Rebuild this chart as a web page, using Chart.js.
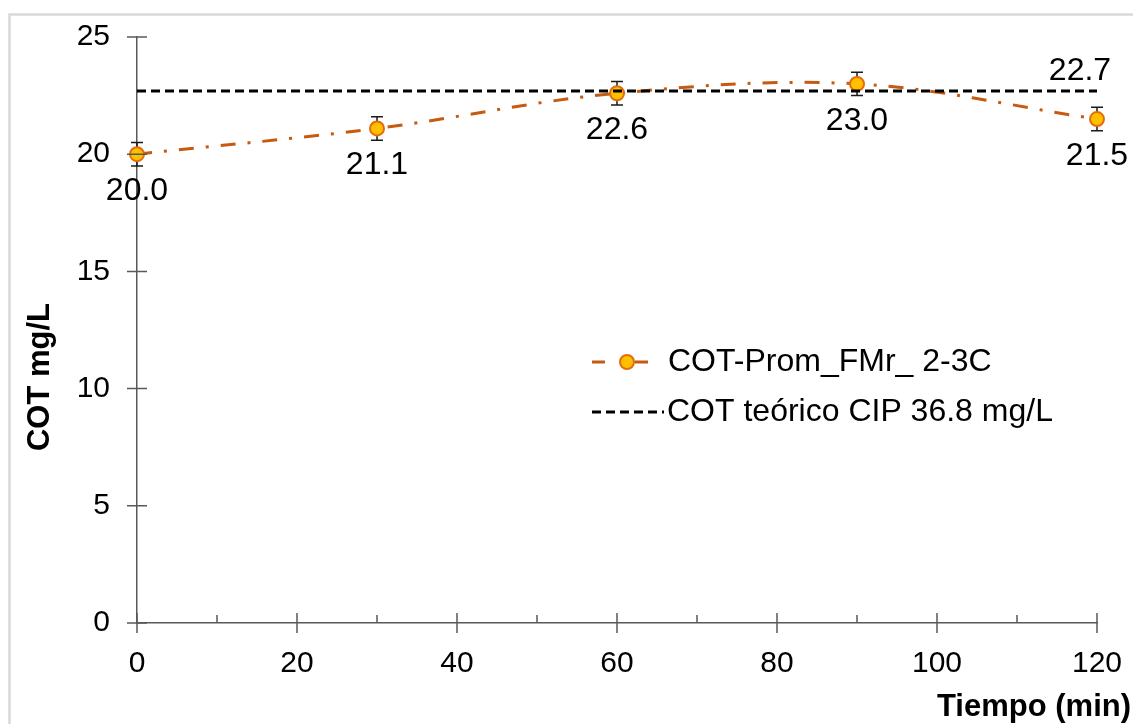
<!DOCTYPE html>
<html>
<head>
<meta charset="utf-8">
<title>COT vs tiempo</title>
<script src="https://cdn.jsdelivr.net/npm/chart.js@4.4.1/dist/chart.umd.min.js"></script>
<style>
  html, body { margin: 0; padding: 0; background: #fff; }
  #chart { display: block; }
</style>
</head>
<body>
<canvas id="chart" width="1133" height="724"></canvas>
<script>
// tiempo de muestreo (min) y COT promedio (mg/L)
const tiempo = [0, 30, 60, 90, 120];
const cotProm = [20.0, 21.1, 22.6, 23.0, 21.5];
const cotError = [0.5, 0.5, 0.5, 0.5, 0.5];
const cotTeorico = 22.7;
const xRange = [0, 120];
const yRange = [0, 25];

const FONT = "'Liberation Sans', Arial, sans-serif";
const ORANGE = "#C65A11";
const AXIS = "#595959";

// ticks that cross the axes + minor ticks on x
const axisTicks = {
  id: "axisTicks",
  afterDraw(chart) {
    const { ctx, scales: { x, y } } = chart;
    const x0 = x.getPixelForValue(0);
    const y0 = y.getPixelForValue(0);
    ctx.save();
    ctx.strokeStyle = AXIS;
    ctx.lineWidth = 1.5;
    ctx.beginPath();
    for (let v = xRange[0]; v <= xRange[1]; v += 10) {
      const px = x.getPixelForValue(v);
      if (v % 20 === 0) {
        ctx.moveTo(px, y0 - 10);
        ctx.lineTo(px, y0 + 10);
      } else {
        ctx.moveTo(px, y0 - 8);
        ctx.lineTo(px, y0);
      }
    }
    for (let v = yRange[0]; v <= yRange[1]; v += 5) {
      const py = y.getPixelForValue(v);
      ctx.moveTo(x0 - 10, py);
      ctx.lineTo(x0 + 10, py);
    }
    ctx.stroke();
    ctx.restore();
  }
};

// frame, axis titles, error bars, value labels and legend
const extras = {
  id: "extras",
  beforeDraw(chart) {
    const ctx = chart.ctx;
    ctx.save();
    ctx.strokeStyle = "#d9d9d9";
    ctx.lineWidth = 2.5;
    ctx.beginPath();
    ctx.moveTo(9.5, chart.height);
    ctx.lineTo(9.5, 14.5);
    ctx.lineTo(chart.width, 14.5);
    ctx.stroke();
    ctx.restore();
  },
  beforeDatasetsDraw(chart) {
    const { ctx, scales: { x, y } } = chart;
    ctx.save();
    ctx.strokeStyle = "#1a1a1a";
    ctx.lineWidth = 1.5;
    ctx.beginPath();
    tiempo.forEach((t, i) => {
      const px = x.getPixelForValue(t);
      const top = y.getPixelForValue(cotProm[i] + cotError[i]);
      const bot = y.getPixelForValue(cotProm[i] - cotError[i]);
      ctx.moveTo(px, top); ctx.lineTo(px, bot);
      ctx.moveTo(px - 6, top); ctx.lineTo(px + 6, top);
      ctx.moveTo(px - 6, bot); ctx.lineTo(px + 6, bot);
    });
    ctx.stroke();
    ctx.restore();
  },
  afterDraw(chart) {
    const { ctx, scales: { x, y } } = chart;
    ctx.save();
    ctx.fillStyle = "#000";
    ctx.font = "32px " + FONT;
    ctx.textAlign = "center";
    ctx.textBaseline = "middle";
    tiempo.forEach((t, i) => {
      ctx.fillText(cotProm[i].toFixed(1), x.getPixelForValue(t), y.getPixelForValue(cotProm[i]) + 37);
    });
    ctx.fillText(cotTeorico.toFixed(1), x.getPixelForValue(xRange[1]) - 17, y.getPixelForValue(cotTeorico) - 20);

    // axis titles
    ctx.font = "bold 31px " + FONT;
    ctx.textAlign = "right";
    ctx.textBaseline = "alphabetic";
    ctx.fillText("Tiempo (min)", 1131, 716);
    ctx.save();
    ctx.translate(49, 377);
    ctx.rotate(-Math.PI / 2);
    ctx.textAlign = "center";
    ctx.fillText("COT mg/L", 0, 0);
    ctx.restore();

    // legend
    const ds = chart.data.datasets;
    const lx = 592, ly1 = 362, ly2 = 412;
    ctx.lineWidth = 3;
    ctx.strokeStyle = ORANGE;
    ctx.beginPath();
    ctx.moveTo(lx, ly1); ctx.lineTo(lx + 13, ly1);
    ctx.moveTo(lx + 43, ly1); ctx.lineTo(lx + 56, ly1);
    ctx.stroke();
    ctx.beginPath();
    ctx.arc(lx + 35, ly1, 7, 0, Math.PI * 2);
    ctx.fillStyle = "#FFC000";
    ctx.fill();
    ctx.lineWidth = 2;
    ctx.strokeStyle = "#E46C0A";
    ctx.stroke();

    ctx.lineWidth = 3;
    ctx.strokeStyle = "#000";
    ctx.setLineDash([9, 5]);
    ctx.beginPath();
    ctx.moveTo(lx, ly2); ctx.lineTo(lx + 72, ly2);
    ctx.stroke();
    ctx.setLineDash([]);

    ctx.fillStyle = "#000";
    ctx.font = "32px " + FONT;
    ctx.textAlign = "left";
    ctx.textBaseline = "middle";
    ctx.fillText(ds[1].label, 668, ly1);
    ctx.fillText(ds[0].label, 667, ly2);
    ctx.restore();
  }
};

const ctx = document.getElementById("chart");
const chart = new Chart(ctx, {
  type: "line",
  data: {
    datasets: [
      {
        label: "COT teórico CIP 36.8 mg/L",
        data: xRange.map((t) => ({ x: t, y: cotTeorico })),
        borderColor: "#000",
        borderWidth: 3,
        borderDash: [9, 5],
        pointRadius: 0,
        order: 0,
      },
      {
        label: "COT-Prom_FMr_ 2-3C",
        data: tiempo.map((t, i) => ({ x: t, y: cotProm[i] })),
        borderColor: ORANGE,
        borderWidth: 3,
        borderDash: [15, 12, 3, 12],
        tension: 0.35,
        pointRadius: 7,
        pointBackgroundColor: "#FFC000",
        pointBorderColor: "#E46C0A",
        pointBorderWidth: 2,
        order: 1,
      },
    ],
  },
  options: {
    responsive: false,
    animation: false,
    devicePixelRatio: 1,
    clip: false,
    layout: { padding: { left: 0, right: 36, top: 37, bottom: 0 } },
    plugins: {
      legend: { display: false },
      tooltip: { enabled: false },
    },
    scales: {
      x: {
        type: "linear",
        min: xRange[0],
        max: xRange[1],
        afterFit: (s) => {
          s.height = 101;
          s.paddingLeft = 0;
          s.paddingRight = 0;
        },
        border: { display: true, color: AXIS, width: 1.5 },
        grid: { display: true, drawOnChartArea: false, drawTicks: false },
        ticks: {
          stepSize: 20,
          padding: 23,
          color: "#000",
          font: { family: FONT, size: 30 },
          maxRotation: 0,
        },
      },
      y: {
        min: yRange[0],
        max: yRange[1],
        afterFit: (s) => {
          s.width = 137;
          s.paddingTop = 0;
          s.paddingBottom = 0;
        },
        border: { display: true, color: AXIS, width: 1.5 },
        grid: { display: true, drawOnChartArea: false, drawTicks: false },
        ticks: {
          stepSize: 5,
          padding: 27,
          color: "#000",
          font: { family: FONT, size: 30 },
        },
      },
    },
  },
  plugins: [axisTicks, extras],
});
</script>
</body>
</html>
